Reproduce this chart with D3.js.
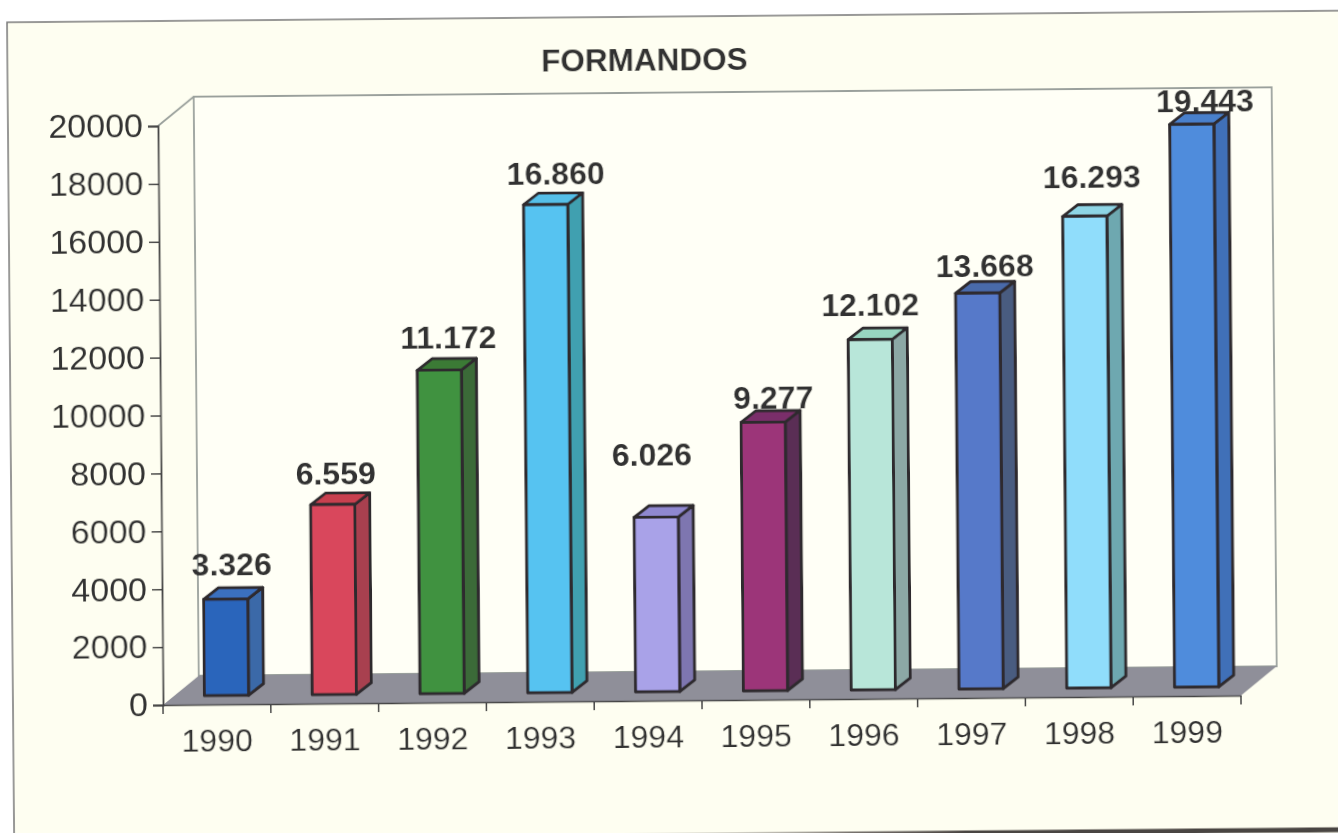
<!DOCTYPE html>
<html>
<head>
<meta charset="utf-8">
<style>
  html, body { margin: 0; padding: 0; background: #fff; }
  text { font-family: "Liberation Sans", Arial, sans-serif; fill: #333; }
</style>
</head>
<body>
<svg id="chart" width="1338" height="833"></svg>
<script src="https://cdn.jsdelivr.net/npm/d3@7"></script>
<script>
var title = "FORMANDOS";
var years = ["1990", "1991", "1992", "1993", "1994", "1995", "1996", "1997", "1998", "1999"];
var formandos = [3326, 6559, 11172, 16860, 6026, 9277, 12102, 13668, 16293, 19443];
var yTicks = [0, 2000, 4000, 6000, 8000, 10000, 12000, 14000, 16000, 18000, 20000];

var frontColors = ["#2b65bb", "#d9475c", "#3f923f", "#57c3f1", "#a9a2e8", "#9c3679", "#b8e6d9", "#5679c9", "#90ddfb", "#508cdc"];
var topColors = ["#3a6fbe", "#c8404f", "#3a7a35", "#55bfe8", "#8f88d0", "#7a2f6a", "#98d5c0", "#4a6aaa", "#8ed5e5", "#4a80cc"];
var sideColors = ["#3a69a8", "#a84050", "#3a6a38", "#3fa0b0", "#7e76b0", "#5a2d55", "#8ca8a5", "#4a5c80", "#6ea8b0", "#3f6fb8"];

// labels were placed by hand in the original, so each one has its own nudge
var labelDx = [16, 13, 19, 20, 6, 20, 10, 17, 17, 23];
var labelGap = [35, 32, 33, 31, 63, 25, 35, 28, 40, 24];

var svg = d3.select("#chart");

var defs = svg.append("defs");
defs.append("filter").attr("id", "scan")
    .attr("x", "-5%").attr("y", "-5%").attr("width", "110%").attr("height", "110%")
  .append("feGaussianBlur").attr("stdDeviation", 0.6);

var fade = defs.append("linearGradient").attr("id", "edge")
    .attr("gradientUnits", "userSpaceOnUse")
    .attr("x1", 350).attr("x2", 800).attr("y1", 0).attr("y2", 0);
fade.append("stop").attr("offset", 0).attr("stop-color", "#4a4442").attr("stop-opacity", 0);
fade.append("stop").attr("offset", 1).attr("stop-color", "#4a4442").attr("stop-opacity", 1);

// the scan is a little crooked, the whole chart hangs off the axis origin
var g = svg.append("g")
    .attr("transform", "translate(163,705) rotate(-0.5)")
    .attr("filter", "url(#scan)");

var width = 1078,
    height = 579,
    depth = {x: 36, y: -29},
    barDepth = {x: 15, y: -11.5},
    barLift = -9;

var x = d3.scaleBand().domain(years).range([0, width]);
var y = d3.scaleLinear().domain([0, 20000]).range([0, -height]);
var dotted = d3.formatLocale({decimal: ",", thousands: ".", grouping: [3], currency: ["", ""]}).format(",d");

var barWidth = x.bandwidth() * 0.41,
    barOffset = x.bandwidth() * 0.385;

// paper
g.append("rect")
    .attr("x", -150).attr("y", -684)
    .attr("width", 1600).attr("height", 900)
    .attr("fill", "#fefef1")
    .attr("stroke", "#777")
    .attr("stroke-width", 1.5);

g.append("line")
    .attr("x1", 350).attr("x2", 1300)
    .attr("y1", 135).attr("y2", 135.01)
    .attr("stroke", "url(#edge)")
    .attr("stroke-width", 5);

// back wall and floor
function pts(list) {
  return list.map(function(p) { return p[0] + "," + p[1]; }).join(" ");
}

g.append("polygon")
    .attr("points", pts([[depth.x, y(20000) + depth.y], [width + depth.x, y(20000) + depth.y],
      [width + depth.x, depth.y], [depth.x, depth.y]]))
    .attr("fill", "#fffff6")
    .attr("stroke", "#9aa09c")
    .attr("stroke-width", 1.8);

g.append("line")
    .attr("x1", 0).attr("y1", y(20000))
    .attr("x2", depth.x).attr("y2", y(20000) + depth.y)
    .attr("stroke", "#9aa09c")
    .attr("stroke-width", 1.8);

g.append("polygon")
    .attr("points", pts([[0, 0], [width, 0], [width + depth.x, depth.y], [depth.x, depth.y]]))
    .attr("fill", "#8f8f99");

// axes
var yAxis = g.append("g")
    .call(d3.axisLeft(y).tickValues(yTicks).tickFormat(d3.format("d")).tickSize(10).tickPadding(5));
yAxis.selectAll("text").attr("font-size", 34);
yAxis.selectAll("line").attr("stroke", "#444").attr("stroke-width", 1.5);
yAxis.select(".domain").attr("stroke", "#444").attr("stroke-width", 1.8);

var xAxis = g.append("g")
    .call(d3.axisBottom(x).tickSize(0).tickPadding(24));
xAxis.selectAll("text").attr("font-size", 32);
xAxis.select(".domain").attr("stroke", "#444").attr("stroke-width", 1.5);

g.append("g").selectAll("line")
    .data(x.domain().concat("end"))
  .enter().append("line")
    .attr("x1", function(d) { return d == "end" ? width : x(d); })
    .attr("x2", function(d) { return d == "end" ? width : x(d); })
    .attr("y1", 0)
    .attr("y2", 9)
    .attr("stroke", "#444")
    .attr("stroke-width", 1.5);

// bars
var data = years.map(function(d, i) {
  return {year: d, value: formandos[i], front: frontColors[i], top: topColors[i], side: sideColors[i],
          dx: labelDx[i], gap: labelGap[i]};
});

var bars = g.append("g").selectAll("g")
    .data(data)
  .enter().append("g")
    .attr("transform", function(d) { return "translate(" + (x(d.year) + barOffset) + "," + barLift + ")"; })
    .attr("stroke", "#2e2a2e")
    .attr("stroke-width", 3)
    .attr("stroke-linejoin", "round");

bars.append("polygon")
    .attr("fill", function(d) { return d.side; })
    .attr("points", function(d) {
      return pts([[barWidth, 0], [barWidth + barDepth.x, barDepth.y],
        [barWidth + barDepth.x, y(d.value) + barDepth.y], [barWidth, y(d.value)]]);
    });

bars.append("polygon")
    .attr("fill", function(d) { return d.top; })
    .attr("points", function(d) {
      return pts([[0, y(d.value)], [barWidth, y(d.value)],
        [barWidth + barDepth.x, y(d.value) + barDepth.y], [barDepth.x, y(d.value) + barDepth.y]]);
    });

bars.append("rect")
    .attr("fill", function(d) { return d.front; })
    .attr("x", 0)
    .attr("y", function(d) { return y(d.value); })
    .attr("width", barWidth)
    .attr("height", function(d) { return -y(d.value); });

// value labels
g.append("g").selectAll("text")
    .data(data)
  .enter().append("text")
    .attr("x", function(d) { return x(d.year) + x.bandwidth() / 2 + d.dx; })
    .attr("y", function(d) { return barLift + y(d.value) - d.gap; })
    .attr("dy", "0.36em")
    .attr("text-anchor", "middle")
    .attr("font-size", 32)
    .attr("font-weight", "bold")
    .text(function(d) { return dotted(d.value); });

g.append("text")
    .attr("x", 487)
    .attr("y", -641)
    .attr("dy", "0.36em")
    .attr("text-anchor", "middle")
    .attr("font-size", 31.5)
    .attr("font-weight", "bold")
    .text(title);
</script>
</body>
</html>
